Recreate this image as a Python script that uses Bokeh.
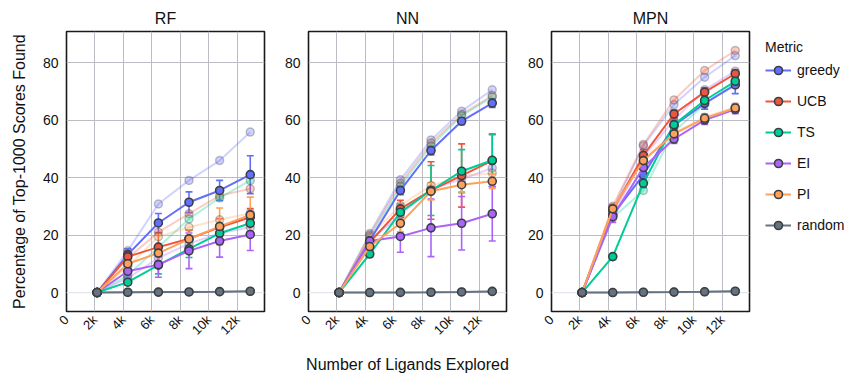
import math

from bokeh.core.properties import value
from bokeh.embed import file_html
from bokeh.layouts import row
from bokeh.models import (ColumnDataSource, FixedTicker, Legend, LegendItem,
                          Range1d, Span, TeeHead, Whisker)
from bokeh.plotting import figure
from bokeh.resources import INLINE

# ---- data -----------------------------------------------------------------
ligands = [2150, 4300, 6450, 8600, 10750, 12900]

x_ticks = [0, 2000, 4000, 6000, 8000, 10000, 12000]
x_tick_labels = ["0", "2k", "4k", "6k", "8k", "10k", "12k"]
y_ticks = [0, 20, 40, 60, 80]

metrics = ["greedy", "UCB", "TS", "EI", "PI", "random"]
models = ["RF", "NN", "MPN"]

# mean percentage of top-1000 scores found
rf_greedy = [0, 13.2, 24.2, 31.4, 35.5, 41.0]
rf_ucb = [0, 12.5, 15.8, 18.7, 22.7, 26.2]
rf_ts = [0, 3.6, 9.5, 15.2, 20.6, 24.1]
rf_ei = [0, 7.4, 9.7, 14.5, 17.9, 20.2]
rf_pi = [0, 10.0, 13.7, 18.6, 23.0, 27.0]
rf_random = [0, 0.1, 0.15, 0.2, 0.3, 0.45]

nn_greedy = [0, 18.0, 35.5, 49.4, 59.6, 65.9]
nn_ucb = [0, 17.5, 29.1, 35.5, 40.7, 45.9]
nn_ts = [0, 13.4, 27.9, 35.5, 42.2, 46.0]
nn_ei = [0, 17.9, 19.5, 22.5, 24.1, 27.4]
nn_pi = [0, 16.0, 24.1, 35.2, 37.5, 38.7]
nn_random = [0, 0.0, 0.05, 0.1, 0.2, 0.4]

mpn_greedy = [0, 27.0, 40.9, 58.1, 65.8, 72.2]
mpn_ucb = [0, 28.5, 47.7, 62.1, 69.7, 76.1]
mpn_ts = [0, 12.5, 38.0, 58.4, 66.8, 73.5]
mpn_ei = [0, 26.4, 43.5, 53.4, 60.0, 63.7]
mpn_pi = [0, 29.1, 45.9, 55.2, 60.6, 64.2]
mpn_random = [0, 0.0, 0.1, 0.15, 0.25, 0.45]

# standard deviations
rf_greedy_err = [0, 2.0, 3.3, 3.6, 3.5, 6.6]
rf_ucb_err = [0, 2.0, 5.0, 3.0, 3.0, 3.0]
rf_ts_err = [0, 1.0, 3.0, 3.0, 3.0, 3.0]
rf_ei_err = [0, 2.0, 4.4, 6.2, 5.6, 5.6]
rf_pi_err = [0, 1.5, 3.0, 3.0, 6.4, 6.2]

nn_greedy_err = [0, 1.0, 1.5, 1.5, 1.2, 1.5]
nn_ucb_err = [0, 1.0, 3.0, 10.0, 11.0, 9.0]
nn_ts_err = [0, 1.0, 3.0, 8.7, 7.5, 9.2]
nn_ei_err = [0, 1.0, 5.5, 10.0, 9.3, 9.5]
nn_pi_err = [0, 1.0, 3.0, 3.0, 2.5, 2.5]

mpn_greedy_err = [0, 1.5, 1.5, 2.0, 2.0, 3.0]
mpn_ucb_err = [0, 1.5, 2.0, 1.5, 1.5, 1.5]
mpn_ts_err = [0, 1.0, 1.5, 1.5, 1.5, 1.5]
mpn_ei_err = [0, 2.0, 1.5, 1.5, 1.5, 1.5]
mpn_pi_err = [0, 1.5, 1.5, 1.5, 1.5, 1.5]

# comparison runs, drawn faded behind the main traces
rf_greedy_b = [0, 14.5, 30.8, 39.0, 45.9, 55.8]
rf_ucb_b = [0, 12.0, 21.0, 27.4, 33.7, 36.1]
rf_ts_b = [0, 6.0, 15.8, 25.6, 32.9, 39.0]
rf_ei_b = [0, 5.0, 12.0, 17.0, 20.6, 22.7]
rf_pi_b = [0, 9.0, 19.4, 22.7, 25.3, 27.6]
rf_random_b = [0, 0.1, 0.1, 0.2, 0.3, 0.4]

nn_greedy_b = [0, 20.5, 39.2, 53.1, 63.1, 70.5]
nn_ucb_b = [0, 20.0, 38.0, 52.0, 62.0, 68.5]
nn_ts_b = [0, 19.0, 37.0, 51.0, 61.5, 68.0]
nn_ei_b = [0, 18.0, 27.0, 36.0, 39.4, 43.3]
nn_pi_b = [0, 19.5, 30.3, 37.2, 40.5, 41.5]
nn_random_b = [0, 0.0, 0.05, 0.1, 0.2, 0.35]

mpn_greedy_b = [0, 29.0, 51.0, 65.4, 74.9, 82.4]
mpn_ucb_b = [0, 30.0, 51.5, 67.0, 77.2, 84.2]
mpn_ts_b = [0, 26.0, 35.5, 56.0, 65.5, 73.0]
mpn_ei_b = [0, 27.0, 47.0, 60.0, 70.5, 77.0]
mpn_pi_b = [0, 29.5, 46.5, 55.5, 61.0, 64.5]
mpn_random_b = [0, 0.0, 0.1, 0.15, 0.25, 0.4]

panel_means = {
    "RF": [rf_greedy, rf_ucb, rf_ts, rf_ei, rf_pi, rf_random],
    "NN": [nn_greedy, nn_ucb, nn_ts, nn_ei, nn_pi, nn_random],
    "MPN": [mpn_greedy, mpn_ucb, mpn_ts, mpn_ei, mpn_pi, mpn_random],
}
panel_errs = {
    "RF": [rf_greedy_err, rf_ucb_err, rf_ts_err, rf_ei_err, rf_pi_err, None],
    "NN": [nn_greedy_err, nn_ucb_err, nn_ts_err, nn_ei_err, nn_pi_err, None],
    "MPN": [mpn_greedy_err, mpn_ucb_err, mpn_ts_err, mpn_ei_err, mpn_pi_err, None],
}
panel_faded = {
    "RF": [rf_greedy_b, rf_ucb_b, rf_ts_b, rf_ei_b, rf_pi_b, rf_random_b],
    "NN": [nn_greedy_b, nn_ucb_b, nn_ts_b, nn_ei_b, nn_pi_b, nn_random_b],
    "MPN": [mpn_greedy_b, mpn_ucb_b, mpn_ts_b, mpn_ei_b, mpn_pi_b, mpn_random_b],
}

# ---- styling --------------------------------------------------------------
COLORS = ["#636efa", "#ef553b", "#00cc96", "#ab63fa", "#ffa15a", "#66727e"]
EDGE = "#3a3f44"
GRID = "#bbbcc4"
FONT = "Liberation Sans"
TEXT = "#111111"

borders = {"RF": (66, 10), "NN": (34, 10), "MPN": (35, 0)}


def make_panel(name, first, middle, last):
    left, right = borders[name]
    p = figure(frame_width=198, frame_height=280,
               min_border_left=left, min_border_right=right,
               min_border_top=31, min_border_bottom=63,
               x_range=Range1d(0, 13900), y_range=Range1d(-6.6, 90.8),
               title=name, toolbar_location=None, output_backend="svg",
               background_fill_color="white", border_fill_color="white")

    p.title.align = "center"
    p.title.text_font = FONT
    p.title.text_font_size = "16px"
    p.title.text_font_style = "normal"
    p.title.text_color = TEXT

    p.outline_line_color = "#1a1a1a"
    p.outline_line_width = 1.6

    p.xaxis.ticker = FixedTicker(ticks=x_ticks)
    p.xaxis.major_label_overrides = dict(zip(x_ticks, x_tick_labels))
    p.xaxis.major_label_orientation = math.pi / 4
    p.yaxis.ticker = FixedTicker(ticks=y_ticks)
    for ax in (p.xaxis[0], p.yaxis[0]):
        ax.axis_line_color = None
        ax.major_tick_line_color = None
        ax.minor_tick_line_color = None
        ax.major_tick_out = 0
        ax.major_tick_in = 0
        ax.major_label_text_font = FONT
        ax.major_label_text_color = TEXT
        ax.axis_label_text_font = FONT
        ax.axis_label_text_font_style = "normal"
        ax.axis_label_text_font_size = "16px"
        ax.axis_label_text_color = TEXT
    p.xaxis.major_label_text_font_size = "13px"
    p.yaxis.major_label_text_font_size = "14px"
    p.xaxis.major_label_standoff = 6
    p.yaxis.major_label_standoff = 8

    if first:
        p.yaxis.axis_label = "Percentage of Top-1000 Scores Found"
        p.yaxis.axis_label_standoff = 12
    if middle:
        p.xaxis.axis_label = "Number of Ligands Explored"
        p.xaxis.axis_label_standoff = 10

    p.xgrid.grid_line_color = GRID
    p.ygrid.grid_line_color = GRID
    p.xgrid.ticker = FixedTicker(ticks=x_ticks[1:])
    p.ygrid.ticker = FixedTicker(ticks=y_ticks[1:])
    p.add_layout(Span(location=0, dimension="width", line_color="#e4e7f0",
                      line_width=1.2, level="underlay"))

    # faded comparison runs
    for color, ys in zip(COLORS, panel_faded[name]):
        p.line(ligands, ys, line_color=color, line_width=2, line_alpha=0.3)
        p.scatter(ligands, ys, size=8, fill_color=color, fill_alpha=0.3,
                  line_color=EDGE, line_alpha=0.3, line_width=1.5)

    items = []
    for metric, color, ys, errs in zip(metrics, COLORS, panel_means[name],
                                       panel_errs[name]):
        if errs is not None:
            xs = [x for x, e in zip(ligands, errs) if e > 0]
            up = [y + e for y, e in zip(ys, errs) if e > 0]
            lo = [y - e for y, e in zip(ys, errs) if e > 0]
            src = ColumnDataSource(dict(base=xs, upper=up, lower=lo))
            p.add_layout(Whisker(source=src, base="base", upper="upper",
                                 lower="lower", dimension="height",
                                 line_color=color, line_width=1.6,
                                 upper_head=TeeHead(size=7, line_color=color,
                                                    line_width=1.6),
                                 lower_head=TeeHead(size=7, line_color=color,
                                                    line_width=1.6)))
        ln = p.line(ligands, ys, line_color=color, line_width=2)
        sc = p.scatter(ligands, ys, size=8, fill_color=color,
                       line_color=EDGE, line_width=1.6)
        items.append(LegendItem(label=metric, renderers=[ln, sc]))

    if last:
        legend = Legend(items=items, title="Metric", location=(16, 76),
                        border_line_color=None, background_fill_alpha=0,
                        margin=0, padding=10, spacing=11,
                        glyph_width=26, glyph_height=20, label_height=20,
                        label_standoff=6, title_standoff=5)
        legend.label_text_font = FONT
        legend.label_text_font_size = "14px"
        legend.label_text_color = TEXT
        legend.title_text_font = FONT
        legend.title_text_font_size = "14px"
        legend.title_text_font_style = "normal"
        legend.title_text_color = TEXT
        p.add_layout(legend, "right")
    return p


panels = [make_panel(m, i == 0, i == 1, i == 2) for i, m in enumerate(models)]
layout = row(*panels, spacing=0)

open("out.html", "w").write(file_html(layout, INLINE))
